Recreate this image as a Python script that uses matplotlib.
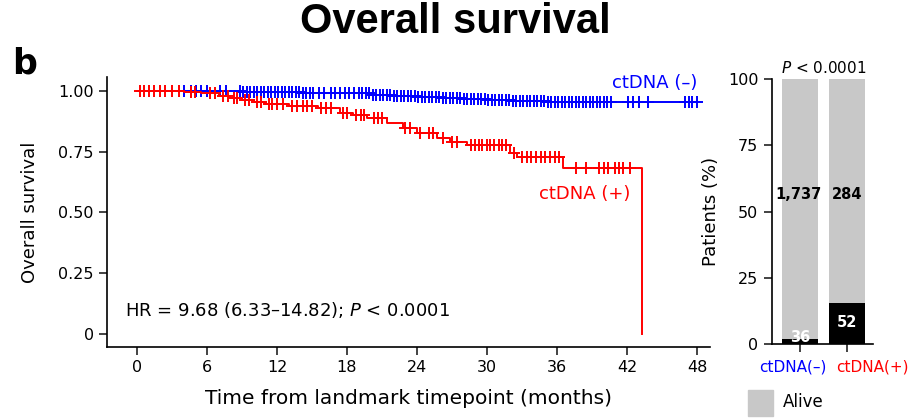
import numpy as np
import matplotlib
matplotlib.use("Agg")
import matplotlib.pyplot as plt
from matplotlib.patches import Rectangle

# Kaplan-Meier step curves (time in months, survival probability)
neg_times = [0, 4, 9, 14, 17, 20, 22, 24, 26, 28, 30, 32, 35, 38.5, 48]
neg_surv = [1.0, 0.998, 0.996, 0.993, 0.99, 0.985, 0.981, 0.977, 0.972, 0.968, 0.963, 0.958, 0.955, 0.953, 0.953]
pos_times = [0, 4.0, 5.5, 7, 8, 9, 10, 11, 13, 15.5, 17.4, 18.5, 19.7, 21.4, 22.8, 24, 25.7, 26.8,
             28.3, 32, 32.6, 36.5, 43.3]
pos_surv = [1.0, 0.995, 0.99, 0.98, 0.97, 0.963, 0.955, 0.945, 0.94, 0.932, 0.91, 0.9, 0.888, 0.868,
            0.848, 0.828, 0.807, 0.79, 0.778, 0.745, 0.728, 0.683, 0.0]

# censoring times
neg_cens = [4.0, 4.6, 5.1, 5.5, 6.0, 7.1, 7.6, 8.8, 9.1, 9.4, 9.7, 10.0, 10.3, 10.6, 10.9, 11.2, 11.5,
            11.8, 12.1, 12.4, 12.7, 13.0, 13.3, 13.6, 13.9, 14.2, 14.5, 14.8, 15.1, 15.6, 16.0, 16.6,
            17.0, 17.4, 17.8, 18.2, 18.6, 19.0, 19.3, 19.6, 19.9, 20.2, 20.5, 20.8, 21.1, 21.4, 21.7,
            22.0, 22.3, 22.6, 22.9, 23.2, 23.5, 23.8, 24.1, 24.4, 24.7, 25.0, 25.3, 25.6, 25.9, 26.2,
            26.5, 26.8, 27.1, 27.4, 27.7, 28.0, 28.3, 28.6, 28.9, 29.2, 29.5, 29.8, 30.1, 30.4, 30.7,
            31.0, 31.3, 31.6, 31.9, 32.2, 32.5, 32.8, 33.1, 33.4, 33.7, 34.0, 34.3, 34.6, 34.9, 35.2,
            35.5, 35.8, 36.1, 36.4, 36.7, 37.0, 37.3, 37.6, 37.9, 38.2, 38.5, 38.8, 39.1, 39.4, 39.7,
            40.0, 40.3, 40.6, 42.1, 42.5, 43.0, 43.8, 47.0, 47.3, 47.6, 48.0]
pos_cens = [0.3, 0.6, 1.0, 1.5, 2.0, 2.4, 3.0, 3.6, 4.6, 5.0, 6.3, 6.7, 7.4, 7.8, 8.3, 8.6, 9.3, 9.6,
            10.3, 10.6, 11.3, 11.6, 12.0, 12.5, 13.3, 13.7, 14.2, 14.6, 15.0, 15.8, 16.2, 16.6, 17.7,
            18.0, 18.8, 19.2, 19.5, 20.3, 20.7, 21.0, 23.0, 23.4, 24.3, 25.0, 25.4, 26.2, 27.0, 27.4,
            28.6, 29.0, 29.3, 29.6, 30.0, 30.3, 30.6, 31.0, 31.3, 31.6, 32.3, 33.0, 33.4, 33.8, 34.2,
            34.6, 35.0, 35.4, 35.8, 36.2, 37.6, 38.5, 39.6, 40.0, 40.4, 41.0, 41.3, 41.7, 42.3]

# bar chart: patients alive / dead per group
groups = ["ctDNA(\u2013)", "ctDNA(+)"]
alive = [1737, 284]
dead = [36, 52]

BLUE = "#0000ff"
RED = "#ff0000"
GREY = "#c8c8c8"

plt.rcParams["font.family"] = "DejaVu Sans"
fig = plt.figure(figsize=(9.10, 4.18), dpi=100)

# ---- KM panel ----
ax = fig.add_axes([0.1176, 0.170, 0.6624, 0.646])


def surv_at(times, surv, t):
    idx = np.searchsorted(times, t, side="right") - 1
    return np.asarray(surv)[idx]


ax.step(neg_times, neg_surv, where="post", color=BLUE, lw=1.4, zorder=2)
ax.plot(neg_cens, surv_at(neg_times, neg_surv, neg_cens), ls="none", marker="+",
        ms=8, mew=1.4, color=BLUE, zorder=2)
ax.step(pos_times, pos_surv, where="post", color=RED, lw=1.4, zorder=3)
ax.plot(pos_cens, surv_at(pos_times, pos_surv, pos_cens), ls="none", marker="+",
        ms=8, mew=1.4, color=RED, zorder=3)

ax.set_xlim(-2.57, 49.1)
ax.set_ylim(-0.0535, 1.058)
ax.set_xticks(range(0, 49, 6))
ax.set_yticks([0, 0.25, 0.5, 0.75, 1.0])
ax.set_yticklabels(["0", "0.25", "0.50", "0.75", "1.00"])
for s in ["top", "right"]:
    ax.spines[s].set_visible(False)
for s in ["left", "bottom"]:
    ax.spines[s].set_linewidth(1.2)
ax.tick_params(axis="both", length=6, width=1.2, labelsize=11.5, color="#222222")
ax.set_xlabel("Time from landmark timepoint (months)", fontsize=14.5, labelpad=10)
ax.set_ylabel("Overall survival", fontsize=13, labelpad=14)

ax.text(48, 1.033, "ctDNA (\u2013)", color=BLUE, fontsize=13, ha="right", va="center")
ax.text(42.3, 0.575, "ctDNA (+)", color=RED, fontsize=13, ha="right", va="center")
ax.text(-1.0, 0.10, "HR = 9.68 (6.33\u201314.82); $\\it{P}$ < 0.0001", fontsize=13,
        ha="left", va="center")

# ---- bar panel ----
bx = fig.add_axes([0.848, 0.177, 0.111, 0.634])
tot = np.array(alive) + np.array(dead)
dead_pct = np.array(dead) / tot * 100
alive_pct = np.array(alive) / tot * 100
xpos = np.arange(len(groups))
bx.bar(xpos, dead_pct, width=0.78, color="black", zorder=2)
bx.bar(xpos, alive_pct, bottom=dead_pct, width=0.78, color=GREY, zorder=2)
bx.set_xlim(-0.6, 1.55)
bx.set_ylim(0, 100)
bx.set_yticks([0, 25, 50, 75, 100])
bx.set_xticks(xpos)
bx.set_xticklabels([])
for s in ["top", "right"]:
    bx.spines[s].set_visible(False)
for s in ["left", "bottom"]:
    bx.spines[s].set_linewidth(1.2)
bx.tick_params(axis="both", length=6, width=1.2, labelsize=11.5, color="#222222")
bx.set_ylabel("Patients (%)", fontsize=13, labelpad=6)
bx.text(0.5, 101, "$\\it{P}$ < 0.0001", fontsize=11, ha="center", va="bottom")

# group labels, shifted apart like the reference
xl_tr = bx.get_xaxis_transform()
bx.text(0.57, -0.085, groups[0], color=BLUE, fontsize=11, ha="right", va="center",
        transform=xl_tr, clip_on=False)
bx.text(0.77, -0.085, groups[1], color=RED, fontsize=11, ha="left", va="center",
        transform=xl_tr, clip_on=False)

bx.text(-0.03, 56.6, f"{alive[0]:,}", fontsize=10.5, fontweight="bold", ha="center", va="center")
bx.text(1.0, 56.6, f"{alive[1]:,}", fontsize=10.5, fontweight="bold", ha="center", va="center")
bx.text(0.0, 2.3, f"{dead[0]}", fontsize=10.5, fontweight="bold", color="white",
        ha="center", va="center", zorder=3)
bx.text(1.0, 8.0, f"{dead[1]}", fontsize=10.5, fontweight="bold", color="white",
        ha="center", va="center", zorder=3)

# legend (Alive)
fig.patches.append(Rectangle((748 / 910, 1 - 416 / 418), 25 / 910, 26 / 418,
                             transform=fig.transFigure, color=GREY))
fig.text(783 / 910, 1 - 402 / 418, "Alive", fontsize=12, ha="left", va="center")

# title and panel letter
fig.text(0.5, 1 - 22 / 418, "Overall survival", fontsize=30, fontweight="bold",
         family="Liberation Sans", ha="center", va="center")
fig.text(12 / 910, 1 - 73 / 418, "b", fontsize=25, fontweight="bold", ha="left",
         va="baseline")

fig.savefig("out.png", dpi=100)
